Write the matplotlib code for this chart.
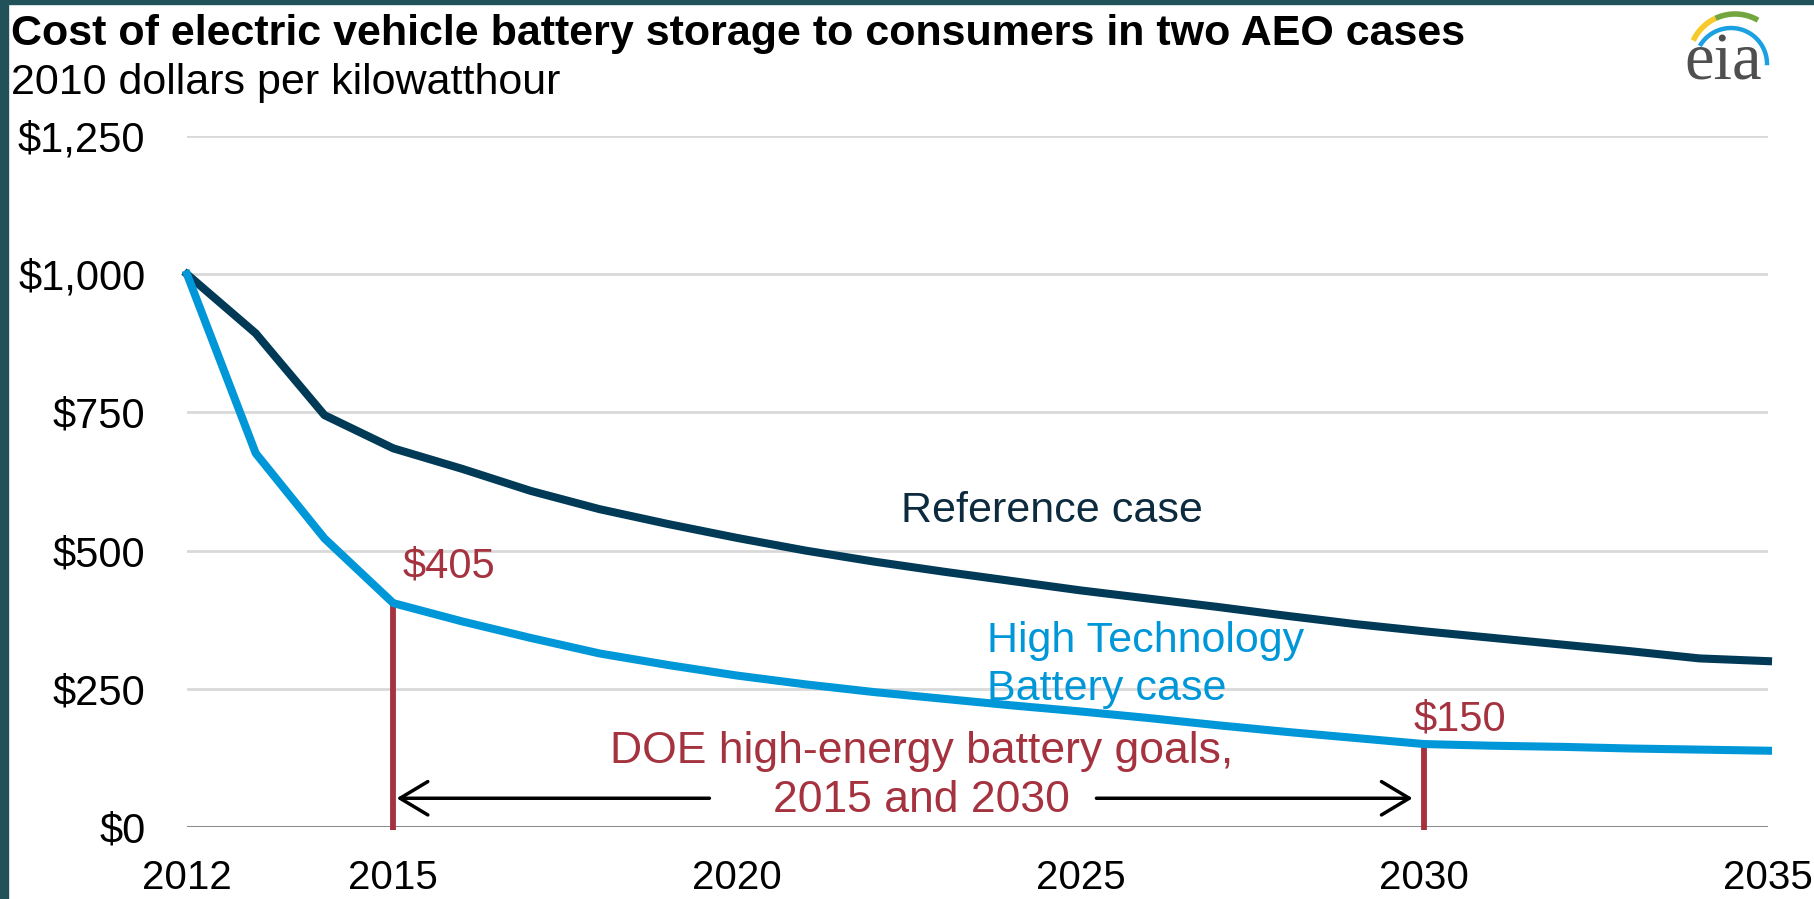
import numpy as np
import matplotlib
matplotlib.use("Agg")
import matplotlib.pyplot as plt
from matplotlib.patches import Rectangle

plt.rcParams["font.family"] = ["Liberation Sans", "DejaVu Sans"]

# data (2010 $/kWh)
years = np.arange(2012, 2036)
reference = [1000, 893, 745, 685, 648, 608, 575, 548, 523, 500, 480, 462,
             445, 428, 413, 398, 382, 367, 354, 342, 330, 318, 305, 300]
high_tech = [1000, 676, 522, 405, 372, 342, 314, 293, 274, 258, 244, 232,
             220, 209, 197, 184, 172, 161, 150, 147, 145, 142, 140, 138]
goal_years = [2015, 2030]
goal_costs = [405, 150]
y_ticks = [0, 250, 500, 750, 1000, 1250]
x_ticks = [2012, 2015, 2020, 2025, 2030, 2035]

REF_COLOR = "#003a57"
HT_COLOR = "#0097d8"
RED = "#a5323f"
W, H = 1814, 899

fig = plt.figure(figsize=(W / 100, H / 100), dpi=100)
fig.patch.set_facecolor("white")

# teal frame on the left and top edges
fig.patches.append(Rectangle((0, 0), 8 / W, 1, transform=fig.transFigure,
                             color="#21525a", zorder=0))
fig.patches.append(Rectangle((0, 1 - 4 / H), 1, 4 / H, transform=fig.transFigure,
                             color="#21525a", zorder=0))

fig.text(11 / W, 1 - 45 / H,
         "Cost of electric vehicle battery storage to consumers in two AEO cases",
         fontsize=31, fontweight="bold", va="baseline", color="black")
fig.text(11 / W, 1 - 94 / H, "2010 dollars per kilowatthour",
         fontsize=31, va="baseline", color="black")

ax = fig.add_axes([187 / W, 72 / H, (1768 - 187) / W, (827 - 136) / H])
ax.set_xlim(2012, 2035)
ax.set_ylim(0, 1250)
for s in ax.spines.values():
    s.set_visible(False)

for v in y_ticks[1:]:
    ax.axhline(v, color="#d9d9d9", lw=2, zorder=1)
ax.axhline(0, color="#8c8c8c", lw=2.2, zorder=2)

ax.set_yticks(y_ticks)
ax.set_yticklabels([f"${v:,}" for v in y_ticks])
ax.set_xticks(x_ticks)
ax.set_xticklabels([str(x) for x in x_ticks])
ax.tick_params(axis="y", length=0, pad=30, labelsize=30)
ax.tick_params(axis="x", length=0, pad=23, labelsize=29)

# DOE goal markers
ax.vlines(goal_years, -5, goal_costs, color=RED, lw=4.2, zorder=3, clip_on=False)

ax.plot(years, reference, color=REF_COLOR, lw=5.8, zorder=4, clip_on=False)
ax.plot(years, high_tech, color=HT_COLOR, lw=5.8, zorder=4, clip_on=False)

ax.text(2015.13, 452, f"${goal_costs[0]}", color=RED, fontsize=30, va="baseline")
ax.text(2029.84, 175, f"${goal_costs[1]}", color=RED, fontsize=30, va="baseline")

ax.text(2022.38, 551, "Reference case", color="#0d2b3e", fontsize=31, va="baseline")
ax.text(2023.64, 317, "High Technology", color=HT_COLOR, fontsize=31, va="baseline")
ax.text(2023.64, 230, "Battery case", color=HT_COLOR, fontsize=31, va="baseline")

ax.text(2022.68, 116, "DOE high-energy battery goals,", color=RED, fontsize=32,
        ha="center", va="baseline")
ax.text(2022.68, 27, "2015 and 2030", color=RED, fontsize=32,
        ha="center", va="baseline")

arrow_y = 52
arrow_kw = dict(arrowstyle="->,head_length=1.0,head_width=0.6", lw=2.5,
                color="black", shrinkA=0, shrinkB=0, mutation_scale=20)
ax.annotate("", xy=(goal_years[0] + 0.05, arrow_y), xytext=(2019.6, arrow_y),
            arrowprops=arrow_kw)
ax.annotate("", xy=(goal_years[1] - 0.17, arrow_y), xytext=(2025.23, arrow_y),
            arrowprops=arrow_kw)

# eia logo (pixel-coordinate overlay)
logo = fig.add_axes([1675 / W, 1 - 90 / H, 100 / W, 86 / H])
logo.set_xlim(1675, 1775)
logo.set_ylim(90, 4)
logo.axis("off")
logo.text(1723, 79, "eia", family="Liberation Serif", fontsize=48,
          color="#4f4f4f", ha="center", va="baseline")
t = np.radians(np.linspace(115, 155, 30))
logo.plot(1735 + 46 * np.cos(t), 60 - 46 * np.sin(t), color="#f7c92a", lw=4,
          solid_capstyle="butt")
t = np.radians(np.linspace(60, 115, 30))
logo.plot(1735 + 46 * np.cos(t), 60 - 46 * np.sin(t), color="#74a63f", lw=4,
          solid_capstyle="butt")
t = np.radians(np.linspace(-2, 150, 60))
logo.plot(1731 + 36 * np.cos(t), 64 - 36 * np.sin(t), color="#1ba1e2", lw=3.2,
          solid_capstyle="butt")

fig.savefig("out.png", dpi=100)
